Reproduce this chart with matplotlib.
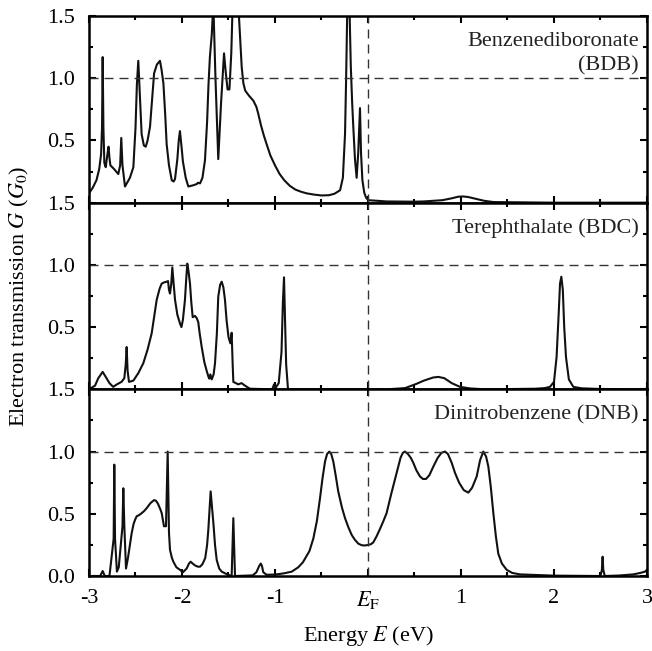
import numpy as np
import matplotlib
matplotlib.use('Agg')
import matplotlib.pyplot as plt
from matplotlib.ticker import MultipleLocator

plt.rcParams['font.family'] = ['Liberation Serif', 'DejaVu Serif']
plt.rcParams['mathtext.fontset'] = 'stix'

# BDB (top panel)
bdb_e = [-3.0, -2.96, -2.92, -2.89, -2.87, -2.86, -2.853, -2.845, -2.835, -2.82, -2.80, -2.79,
         -2.78, -2.77, -2.73, -2.685, -2.665, -2.653, -2.64, -2.613, -2.59, -2.56, -2.523,
         -2.50, -2.485, -2.47, -2.455, -2.44, -2.434, -2.41, -2.39, -2.37, -2.344, -2.32,
         -2.30, -2.27, -2.237, -2.22, -2.20, -2.18, -2.165, -2.14, -2.11, -2.09, -2.075,
         -2.05, -2.035, -2.022, -2.005, -1.99, -1.98, -1.96, -1.932, -1.878, -1.84, -1.83,
         -1.806, -1.78, -1.753, -1.73, -1.715, -1.70, -1.68, -1.663, -1.64, -1.61, -1.58,
         -1.548, -1.53, -1.51, -1.49, -1.47, -1.455, -1.395, -1.37, -1.358, -1.34, -1.32,
         -1.28, -1.233, -1.20, -1.18, -1.15, -1.12, -1.09, -1.05, -1.0, -0.95, -0.90,
         -0.84, -0.78, -0.72, -0.66, -0.58, -0.50, -0.42, -0.36, -0.30, -0.27, -0.247,
         -0.235, -0.222, -0.20, -0.185, -0.17, -0.158, -0.14, -0.122, -0.105, -0.086,
         -0.075, -0.06, -0.04, -0.02, 0.003, 0.20, 0.50, 0.60, 0.80, 0.90, 0.97, 1.025,
         1.08, 1.15, 1.25, 1.35, 2.0, 3.0]
bdb_g = [0.075, 0.12, 0.18, 0.27, 0.39, 0.60, 1.17, 0.60, 0.32, 0.285, 0.40, 0.45,
         0.36, 0.30, 0.27, 0.23, 0.30, 0.52, 0.30, 0.13, 0.16, 0.20, 0.285,
         0.60, 0.95, 1.14, 0.90, 0.65, 0.55, 0.46, 0.45, 0.50, 0.61, 0.85,
         1.04, 1.11, 1.14, 1.07, 0.96, 0.70, 0.47, 0.30, 0.18, 0.17, 0.19,
         0.35, 0.50, 0.575, 0.45, 0.33, 0.285, 0.20, 0.13, 0.14, 0.15, 0.16,
         0.155, 0.20, 0.34, 0.65, 0.95, 1.17, 1.35, 1.60, 1.00, 0.35, 0.80,
         1.20, 1.05, 0.91, 0.91, 1.20, 1.60, 1.60, 1.25, 1.09, 0.96, 0.90,
         0.86, 0.82, 0.77, 0.715, 0.62, 0.54, 0.47, 0.38, 0.30, 0.23, 0.18,
         0.135, 0.105, 0.088, 0.075, 0.065, 0.058, 0.06, 0.072, 0.10, 0.20, 0.55,
         1.0, 1.60, 1.60, 1.10, 0.80, 0.61, 0.35, 0.20, 0.40, 0.76,
         0.40, 0.18, 0.08, 0.04, 0.02, 0.01, 0.008, 0.01, 0.02, 0.035, 0.048, 0.05,
         0.045, 0.033, 0.015, 0.005, 0.0, 0.0]

# BDC (middle panel)
bdc_e = [-3.0, -2.935, -2.9, -2.853, -2.82, -2.78, -2.74, -2.70, -2.65, -2.62, -2.605,
         -2.595, -2.585, -2.57, -2.523, -2.47, -2.416, -2.37, -2.326, -2.30, -2.272, -2.24,
         -2.218, -2.19, -2.165, -2.15, -2.14, -2.129, -2.115, -2.104, -2.09, -2.075, -2.05,
         -2.022, -2.006, -1.99, -1.968, -1.955, -1.943, -1.93, -1.914, -1.90, -1.885, -1.86,
         -1.84, -1.825, -1.81, -1.788, -1.76, -1.735, -1.715, -1.706, -1.695, -1.68, -1.66,
         -1.645, -1.625, -1.61, -1.59, -1.573, -1.555, -1.538, -1.52, -1.50, -1.48, -1.466,
         -1.455, -1.448, -1.395, -1.36, -1.323, -1.27, -1.03, -1.01, -0.995, -0.96, -0.93,
         -0.915, -0.903, -0.89, -0.88, -0.86, 0.20, 0.40, 0.524, 0.60, 0.70, 0.756, 0.82,
         0.90, 0.989, 1.10, 1.27, 1.80, 1.90, 1.957, 2.0, 2.028, 2.05, 2.065, 2.079,
         2.095, 2.11, 2.129, 2.16, 2.208, 2.30, 2.50, 3.0]
bdc_g = [0.0, 0.03, 0.09, 0.14, 0.10, 0.05, 0.02, 0.04, 0.06, 0.09, 0.20,
         0.34, 0.15, 0.06, 0.07, 0.13, 0.21, 0.32, 0.45, 0.58, 0.72, 0.81,
         0.85, 0.86, 0.865, 0.87, 0.80, 0.77, 0.85, 0.98, 0.85, 0.72, 0.60,
         0.53, 0.50, 0.56, 0.72, 0.88, 1.01, 0.95, 0.85, 0.70, 0.58, 0.59,
         0.57, 0.54, 0.45, 0.34, 0.22, 0.15, 0.10, 0.086, 0.12, 0.08, 0.12,
         0.21, 0.45, 0.745, 0.84, 0.865, 0.82, 0.72, 0.55, 0.42, 0.37, 0.455,
         0.20, 0.06, 0.04, 0.05, 0.03, 0.005, 0.0, 0.04, 0.01, 0.05, 0.30,
         0.70, 0.90, 0.50, 0.20, 0.0, 0.0, 0.01, 0.045, 0.07, 0.095, 0.10, 0.09,
         0.05, 0.02, 0.007, 0.0, 0.005, 0.01, 0.02, 0.06, 0.26, 0.60, 0.85, 0.905,
         0.80, 0.50, 0.26, 0.08, 0.02, 0.008, 0.003, 0.0]

# DNB (bottom panel)
dnb_e = [-3.0, -2.88, -2.853, -2.83, -2.78, -2.735, -2.728, -2.72, -2.70, -2.68, -2.64,
         -2.631, -2.62, -2.602, -2.58, -2.56, -2.541, -2.52, -2.50, -2.487, -2.46, -2.434,
         -2.41, -2.38, -2.34, -2.30, -2.28, -2.258, -2.235, -2.218, -2.205, -2.194, -2.172,
         -2.16, -2.154, -2.148, -2.14, -2.129, -2.11, -2.093, -2.06, -2.022, -1.99, -1.95,
         -1.925, -1.907, -1.885, -1.86, -1.83, -1.806, -1.78, -1.75, -1.73, -1.717, -1.70,
         -1.692, -1.68, -1.663, -1.645, -1.627, -1.60, -1.573, -1.52, -1.466, -1.448, -1.43,
         -1.24, -1.20, -1.17, -1.153, -1.14, -1.126, -1.09, -1.0, -0.964, -0.90, -0.82,
         -0.75, -0.70, -0.677, -0.63, -0.588, -0.55, -0.516, -0.49, -0.462, -0.44, -0.416,
         -0.395, -0.373, -0.35, -0.32, -0.28, -0.247, -0.21, -0.175, -0.14, -0.104, -0.07,
         -0.04, -0.01, 0.03, 0.057, 0.093, 0.13, 0.165, 0.20, 0.25, 0.308, 0.35, 0.375,
         0.398, 0.43, 0.46, 0.487, 0.52, 0.559, 0.59, 0.624, 0.66, 0.703, 0.75, 0.79,
         0.828, 0.86, 0.90, 0.935, 0.98, 1.03, 1.079, 1.12, 1.169, 1.205, 1.24, 1.27,
         1.294, 1.32, 1.348, 1.375, 1.401, 1.44, 1.491, 1.55, 1.634, 2.0, 2.50, 2.515,
         2.523, 2.53, 2.546, 2.70, 2.853, 2.93, 2.978, 3.0]
dnb_g = [0.0, 0.0, 0.04, 0.0, 0.0, 0.30, 0.895, 0.30, 0.035, 0.07, 0.40,
         0.705, 0.40, 0.06, 0.15, 0.25, 0.345, 0.42, 0.46, 0.48, 0.49, 0.505,
         0.52, 0.545, 0.585, 0.61, 0.605, 0.58, 0.54, 0.505, 0.45, 0.40, 0.40,
         0.80, 1.0, 0.70, 0.35, 0.21, 0.15, 0.115, 0.07, 0.05, 0.03, 0.06,
         0.10, 0.115, 0.10, 0.085, 0.075, 0.075, 0.095, 0.145, 0.25, 0.37, 0.58,
         0.68, 0.58, 0.43, 0.25, 0.13, 0.06, 0.035, 0.015, 0.0, 0.465, 0.0,
         0.005, 0.03, 0.08, 0.10, 0.08, 0.03, 0.01, 0.012, 0.015, 0.022, 0.035,
         0.07, 0.11, 0.14, 0.20, 0.30, 0.44, 0.625, 0.78, 0.92, 0.98, 1.0,
         0.98, 0.92, 0.82, 0.68, 0.55, 0.465, 0.39, 0.33, 0.29, 0.26, 0.248,
         0.245, 0.248, 0.255, 0.27, 0.32, 0.38, 0.44, 0.505, 0.66, 0.83, 0.95, 0.99,
         1.0, 0.98, 0.95, 0.91, 0.85, 0.80, 0.78, 0.78, 0.81, 0.88, 0.95, 0.99,
         1.0, 0.98, 0.91, 0.83, 0.75, 0.69, 0.67, 0.71, 0.80, 0.93, 1.0, 0.96,
         0.88, 0.72, 0.505, 0.32, 0.18, 0.10, 0.05, 0.025, 0.013, 0.003, 0.0, 0.05,
         0.155, 0.05, 0.0, 0.004, 0.013, 0.025, 0.035, 0.05]

panels = [
    (bdb_e, bdb_g, 'Benzenediboronate\n(BDB)'),
    (bdc_e, bdc_g, 'Terephthalate (BDC)'),
    (dnb_e, dnb_g, 'Dinitrobenzene (DNB)'),
]
xticks = [-3, -2, -1, 0, 1, 2, 3]
xtick_labels = ['-3', '-2', '-1', r'$E_\mathrm{F}$', '1', '2', '3']

fig, axes = plt.subplots(3, 1, figsize=(6.52, 6.51), dpi=100, sharex=True)
fig.subplots_adjust(left=0.1365, right=0.9923, bottom=0.1152, top=0.9754, hspace=0)

for i, (ax, (e, g, name)) in enumerate(zip(axes, panels)):
    ax.plot(e, g, color='#111111', lw=1.5)
    ax.axhline(1.0, color='#333333', lw=1.0, dashes=(6.5, 4.3))
    ax.axvline(0.0, color='#333333', lw=1.0, dashes=(6.5, 4.3))
    ax.set_xlim(-3, 3)
    ax.set_ylim(0, 1.5)
    if i < 2:
        ax.set_yticks([0.5, 1.0, 1.5])
    else:
        ax.set_yticks([0.0, 0.5, 1.0, 1.5])
    ax.yaxis.set_minor_locator(MultipleLocator(0.25))
    ax.xaxis.set_minor_locator(MultipleLocator(0.5))
    ax.tick_params(which='both', direction='in', top=True, right=True, labelsize=16, width=1.5)
    ax.tick_params(which='major', length=5)
    ax.tick_params(which='minor', length=3)
    ax.tick_params(axis='x', pad=9)
    ax.tick_params(axis='y', pad=10)
    for s in ax.spines.values():
        s.set_linewidth(1.8)
    ax.text(0.985, 0.915, name, transform=ax.transAxes, ha='right', va='top',
            fontsize=16, linespacing=1.4, color='#222222')

axes[2].set_xticks(xticks)
axes[2].set_xticklabels(xtick_labels)
axes[2].set_xlabel('Energy $E$ (eV)', fontsize=16, labelpad=10)
fig.text(0.03, 0.545, 'Electron transmission $G$ ($G_0$)', rotation=90,
         ha='center', va='center', fontsize=16)

fig.savefig('out.png', dpi=100)
